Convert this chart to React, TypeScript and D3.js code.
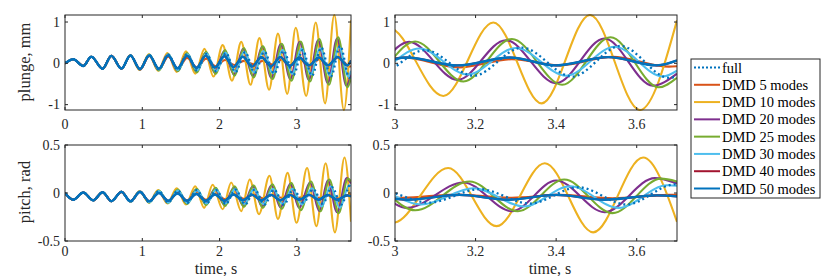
import React from "react";
import * as d3 from "d3";

type Pt = [number, number];

// ---------- data (extrema, t in s) ----------
const seriesNames = [
  "full",
  "DMD 5 modes",
  "DMD 10 modes",
  "DMD 20 modes",
  "DMD 25 modes",
  "DMD 30 modes",
  "DMD 40 modes",
  "DMD 50 modes",
];
const seriesColors = ["#0072BD", "#D95319", "#EDB120", "#7E2F8E", "#77AC30", "#4DBEEE", "#A2142F", "#0072BD"];

const plungeStart: Pt[] = [[0, 0], [0.107, 0.1], [0.236, -0.065], [0.34, 0.16], [0.486, -0.13], [0.6, 0.18], [0.73, -0.13]];
const pitchStart: Pt[] = [[0, 0], [0.107, -0.07], [0.236, 0.005], [0.365, -0.076], [0.486, 0.008], [0.6, -0.085], [0.73, 0.012]];

const plungeFull: Pt[] = [[0.846,0.19],[0.97,-0.14],[1.09,0.2],[1.215,-0.15],[1.335,0.21],[1.46,-0.16],[1.58,0.22],[1.705,-0.17],[1.83,0.23],[1.955,-0.19],[2.08,0.25],[2.205,-0.21],[2.33,0.27],[2.455,-0.23],[2.58,0.28],[2.705,-0.25],[2.83,0.3],[2.955,-0.28],[3.075,0.32],[3.195,-0.3],[3.315,0.38],[3.44,-0.32],[3.56,0.42],[3.68,-0.35],[3.7,-0.32]];
const plunge5: Pt[] = [[0.846,0.19],[0.97,-0.15],[1.09,0.18],[1.215,-0.15],[1.335,0.16],[1.46,-0.13],[1.58,0.13],[1.705,-0.1],[1.825,0.11],[1.95,-0.07],[2.07,0.08],[2.195,-0.04],[2.315,0.06],[2.44,-0.02],[2.56,0.06],[2.685,-0.03],[2.8,0.09],[2.91,-0.06],[3.02,0.14],[3.16,-0.1],[3.29,0.1],[3.41,-0.05],[3.54,0.16],[3.68,-0.08],[3.7,-0.07]];
const plunge10: Pt[] = [[0.846,0.2],[0.965,-0.16],[1.085,0.22],[1.205,-0.18],[1.325,0.25],[1.445,-0.21],[1.565,0.29],[1.685,-0.25],[1.805,0.35],[1.92,-0.32],[2.04,0.44],[2.16,-0.42],[2.28,0.52],[2.4,-0.52],[2.515,0.61],[2.64,-0.64],[2.755,0.72],[2.875,-0.74],[2.985,0.86],[3.12,-0.79],[3.244,0.99],[3.364,-0.97],[3.484,1.17],[3.608,-1.13],[3.7,1.04]];
const plunge20: Pt[] = [[0.846,0.19],[0.97,-0.15],[1.09,0.2],[1.21,-0.16],[1.33,0.21],[1.455,-0.18],[1.575,0.23],[1.7,-0.2],[1.82,0.26],[1.94,-0.23],[2.06,0.3],[2.185,-0.27],[2.305,0.35],[2.43,-0.31],[2.55,0.4],[2.67,-0.35],[2.79,0.46],[2.915,-0.38],[3.035,0.52],[3.155,-0.4],[3.275,0.56],[3.4,-0.48],[3.52,0.6],[3.64,-0.54],[3.7,-0.25]];
const plunge25: Pt[] = [[0.846,0.19],[0.97,-0.15],[1.09,0.21],[1.215,-0.17],[1.335,0.22],[1.46,-0.19],[1.58,0.25],[1.705,-0.22],[1.825,0.28],[1.95,-0.26],[2.07,0.32],[2.195,-0.3],[2.315,0.37],[2.44,-0.34],[2.56,0.41],[2.685,-0.38],[2.805,0.47],[2.93,-0.42],[3.05,0.53],[3.17,-0.44],[3.29,0.59],[3.415,-0.52],[3.535,0.63],[3.655,-0.58],[3.7,-0.35]];
const plunge30: Pt[] = [[0.846,0.19],[0.97,-0.14],[1.09,0.2],[1.215,-0.15],[1.335,0.21],[1.46,-0.16],[1.585,0.22],[1.71,-0.17],[1.83,0.24],[1.955,-0.19],[2.075,0.26],[2.2,-0.2],[2.32,0.28],[2.445,-0.22],[2.565,0.3],[2.69,-0.24],[2.815,0.33],[2.94,-0.26],[3.06,0.36],[3.18,-0.27],[3.3,0.37],[3.425,-0.3],[3.545,0.4],[3.665,-0.32],[3.7,-0.18]];
const plunge50: Pt[] = [[0.846,0.19],[0.97,-0.14],[1.09,0.19],[1.215,-0.13],[1.335,0.19],[1.455,-0.12],[1.58,0.18],[1.7,-0.11],[1.82,0.18],[1.94,-0.1],[2.06,0.17],[2.18,-0.09],[2.3,0.16],[2.42,-0.08],[2.54,0.15],[2.665,-0.07],[2.785,0.15],[2.91,-0.06],[3.03,0.14],[3.155,-0.05],[3.285,0.14],[3.4,-0.05],[3.53,0.15],[3.65,-0.05],[3.7,0.07]];
const plunge40: Pt[] = plunge50;

const pitchFull: Pt[] = [[0.846,-0.09],[0.97,0.015],[1.09,-0.095],[1.215,0.02],[1.335,-0.1],[1.46,0.025],[1.58,-0.105],[1.705,0.03],[1.83,-0.11],[1.955,0.03],[2.08,-0.115],[2.205,0.035],[2.33,-0.12],[2.455,0.035],[2.58,-0.12],[2.705,0.035],[2.83,-0.12],[2.955,0.035],[3.085,-0.1],[3.21,0.04],[3.335,-0.11],[3.455,0.06],[3.575,-0.12],[3.695,0.09],[3.7,0.09]];
const pitch5: Pt[] = [[0.846,-0.09],[0.97,0.015],[1.09,-0.09],[1.215,0.01],[1.335,-0.085],[1.46,0.005],[1.58,-0.08],[1.705,0],[1.825,-0.07],[1.95,-0.005],[2.07,-0.065],[2.195,-0.01],[2.315,-0.06],[2.44,-0.015],[2.56,-0.055],[2.685,-0.015],[2.8,-0.05],[2.91,-0.015],[3.02,-0.05],[3.15,-0.015],[3.29,-0.05],[3.41,-0.02],[3.54,-0.055],[3.68,-0.02],[3.7,-0.02]];
const pitch10: Pt[] = [[0.846,-0.09],[0.966,0.02],[1.085,-0.1],[1.205,0.03],[1.325,-0.11],[1.445,0.05],[1.565,-0.12],[1.685,0.07],[1.8,-0.155],[1.91,0.086],[2.04,-0.17],[2.15,0.11],[2.28,-0.19],[2.39,0.14],[2.51,-0.22],[2.645,0.18],[2.755,-0.27],[2.88,0.21],[2.995,-0.31],[3.132,0.26],[3.252,-0.345],[3.372,0.31],[3.492,-0.41],[3.616,0.37],[3.7,-0.3]];
const pitch20: Pt[] = [[0.846,-0.09],[0.97,0.015],[1.09,-0.095],[1.21,0.02],[1.33,-0.1],[1.455,0.025],[1.575,-0.105],[1.7,0.035],[1.82,-0.11],[1.94,0.045],[2.06,-0.12],[2.185,0.055],[2.305,-0.13],[2.43,0.07],[2.55,-0.14],[2.67,0.08],[2.79,-0.15],[2.915,0.095],[3.03,-0.155],[3.17,0.11],[3.29,-0.19],[3.4,0.13],[3.52,-0.2],[3.645,0.155],[3.7,0.1]];
const pitch25: Pt[] = [[0.846,-0.09],[0.97,0.015],[1.09,-0.1],[1.215,0.025],[1.335,-0.105],[1.46,0.035],[1.58,-0.115],[1.705,0.045],[1.825,-0.125],[1.95,0.055],[2.07,-0.135],[2.195,0.07],[2.315,-0.145],[2.44,0.08],[2.56,-0.155],[2.685,0.09],[2.805,-0.165],[2.93,0.105],[3.05,-0.18],[3.185,0.12],[3.305,-0.19],[3.42,0.14],[3.54,-0.21],[3.66,0.15],[3.7,0.12]];
const pitch30: Pt[] = [[0.846,-0.09],[0.97,0.015],[1.09,-0.095],[1.215,0.02],[1.335,-0.1],[1.46,0.025],[1.585,-0.105],[1.71,0.03],[1.83,-0.11],[1.955,0.035],[2.075,-0.11],[2.2,0.04],[2.32,-0.115],[2.445,0.04],[2.565,-0.115],[2.69,0.045],[2.815,-0.115],[2.94,0.045],[3.065,-0.12],[3.195,0.05],[3.32,-0.14],[3.435,0.07],[3.555,-0.155],[3.675,0.08],[3.7,0.075]];
const pitch50: Pt[] = [[0.846,-0.085],[0.97,0.01],[1.09,-0.085],[1.215,0],[1.335,-0.08],[1.455,-0.005],[1.58,-0.08],[1.7,-0.01],[1.82,-0.08],[1.94,-0.015],[2.06,-0.08],[2.18,-0.015],[2.3,-0.075],[2.42,-0.02],[2.54,-0.075],[2.665,-0.02],[2.785,-0.075],[2.91,-0.02],[3.03,-0.07],[3.16,-0.02],[3.28,-0.07],[3.4,-0.02],[3.52,-0.07],[3.65,-0.025],[3.7,-0.035]];
const pitch40: Pt[] = pitch50;

const xTicksLeft = [0, 1, 2, 3];
const xTicksRight = [3, 3.2, 3.4, 3.6];
const yTicksPlunge = [-1, 0, 1];
const yTicksPitch = [-0.5, 0, 0.5];
const xDomainLeft: [number, number] = [0, 3.7];
const xDomainRight: [number, number] = [3, 3.7];
const yDomainPlunge: [number, number] = [-1.13, 1.17];
const yDomainPitch: [number, number] = [-0.5, 0.5];

const plungeSeries: Pt[][] = [plungeFull, plunge5, plunge10, plunge20, plunge25, plunge30, plunge40, plunge50].map((s) => [...plungeStart, ...s]);
const pitchSeries: Pt[][] = [pitchFull, pitch5, pitch10, pitch20, pitch25, pitch30, pitch40, pitch50].map((s) => [...pitchStart, ...s]);

// ---------- layout ----------
const FONT = "'Liberation Serif', 'Times New Roman', serif";
const TXT = "#262626";
const drawOrder = [1, 2, 3, 4, 5, 6, 7, 0];

type PanelCfg = {
  id: string;
  x0: number; x1: number; y0: number; y1: number;
  xDomain: [number, number]; yDomain: [number, number];
  xTicks: number[]; yTicks: number[];
  series: Pt[][];
  xLabelBase: number;
  xLabel?: { x: number; y: number };
  yLabel?: { text: string; x: number; y: number };
};

const panels: PanelCfg[] = [
  { id: "tl", x0: 65, x1: 351, y0: 15, y1: 110, xDomain: xDomainLeft, yDomain: yDomainPlunge, xTicks: xTicksLeft, yTicks: yTicksPlunge, series: plungeSeries, xLabelBase: 129, yLabel: { text: "plunge, mm", x: 30, y: 62 } },
  { id: "tr", x0: 395, x1: 677, y0: 15, y1: 110, xDomain: xDomainRight, yDomain: yDomainPlunge, xTicks: xTicksRight, yTicks: yTicksPlunge, series: plungeSeries, xLabelBase: 129 },
  { id: "bl", x0: 65, x1: 351, y0: 145, y1: 241, xDomain: xDomainLeft, yDomain: yDomainPitch, xTicks: xTicksLeft, yTicks: yTicksPitch, series: pitchSeries, xLabelBase: 255.5, xLabel: { x: 216, y: 274 }, yLabel: { text: "pitch, rad", x: 30, y: 192 } },
  { id: "br", x0: 395, x1: 677, y0: 145, y1: 241, xDomain: xDomainRight, yDomain: yDomainPitch, xTicks: xTicksRight, yTicks: yTicksPitch, series: pitchSeries, xLabelBase: 255.5, xLabel: { x: 550, y: 274 } },
];

function Panel({ p }: { p: PanelCfg }) {
  const x = d3.scaleLinear().domain(p.xDomain).range([p.x0, p.x1]);
  const y = d3.scaleLinear().domain(p.yDomain).range([p.y1, p.y0]);
  const line = d3
    .line<Pt>()
    .x((d) => x(d[0]))
    .y((d) => y(d[1]))
    .curve(d3.curveMonotoneX);
  const tl = 3;
  return (
    <g>
      <defs>
        <clipPath id={`clip-${p.id}`}>
          <rect x={p.x0} y={p.y0 - 1} width={p.x1 - p.x0} height={p.y1 - p.y0 + 2} />
        </clipPath>
      </defs>
      <rect x={p.x0} y={p.y0} width={p.x1 - p.x0} height={p.y1 - p.y0} fill="#fff" />
      <g clipPath={`url(#clip-${p.id})`}>
        {drawOrder.map((i) => (
          <path
            key={i}
            d={line(p.series[i]) || ""}
            fill="none"
            stroke={seriesColors[i]}
            strokeWidth={i === 0 ? 2.3 : i === 7 ? 2.4 : 2.1}
            strokeDasharray={i === 0 ? "2 3" : undefined}
            strokeLinejoin="round"
          />
        ))}
      </g>
      <rect x={p.x0} y={p.y0} width={p.x1 - p.x0} height={p.y1 - p.y0} fill="none" stroke="#262626" strokeWidth={1} />
      {p.xTicks.map((t) => (
        <g key={`xt${t}`}>
          <line x1={x(t)} x2={x(t)} y1={p.y1} y2={p.y1 - tl} stroke="#262626" />
          <line x1={x(t)} x2={x(t)} y1={p.y0} y2={p.y0 + tl} stroke="#262626" />
          <text x={x(t)} y={p.xLabelBase} textAnchor="middle" fontFamily={FONT} fontSize={14} fill={TXT}>
            {String(t)}
          </text>
        </g>
      ))}
      {p.yTicks.map((t) => (
        <g key={`yt${t}`}>
          <line x1={p.x0} x2={p.x0 + tl} y1={y(t)} y2={y(t)} stroke="#262626" />
          <line x1={p.x1} x2={p.x1 - tl} y1={y(t)} y2={y(t)} stroke="#262626" />
          <text x={p.x0 - 5} y={y(t) + 4.5} textAnchor="end" fontFamily={FONT} fontSize={14} fill={TXT}>
            {String(t)}
          </text>
        </g>
      ))}
      {p.xLabel && (
        <text x={p.xLabel.x} y={p.xLabel.y} textAnchor="middle" fontFamily={FONT} fontSize={16} fill={TXT}>
          time, s
        </text>
      )}
      {p.yLabel && (
        <text
          transform={`translate(${p.yLabel.x},${p.yLabel.y}) rotate(-90)`}
          textAnchor="middle"
          fontFamily={FONT}
          fontSize={16.5}
          fill={TXT}
        >
          {p.yLabel.text}
        </text>
      )}
    </g>
  );
}

function Legend() {
  const x0 = 691, y0 = 59, w = 129, h = 139;
  const rowY = d3.scaleLinear().domain([0, seriesNames.length - 1]).range([67.5, 188.5]);
  return (
    <g>
      <rect x={x0} y={y0} width={w} height={h} fill="#fff" stroke="#262626" strokeWidth={1} />
      {seriesNames.map((n, i) => (
        <g key={n}>
          <line
            x1={694}
            x2={720}
            y1={rowY(i)}
            y2={rowY(i)}
            stroke={seriesColors[i]}
            strokeWidth={2}
            strokeDasharray={i === 0 ? "2 2" : undefined}
          />
          <text x={722} y={rowY(i) + 5} fontFamily={FONT} fontSize={14.5} fill="#000">
            {n}
          </text>
        </g>
      ))}
    </g>
  );
}

export default function App() {
  return (
    <svg width={830} height={276} style={{ position: "absolute", left: 0, top: 0, background: "#fff" }}>
      <rect x={0} y={0} width={830} height={276} fill="#fff" />
      {panels.map((p) => (
        <Panel key={p.id} p={p} />
      ))}
      <Legend />
    </svg>
  );
}
